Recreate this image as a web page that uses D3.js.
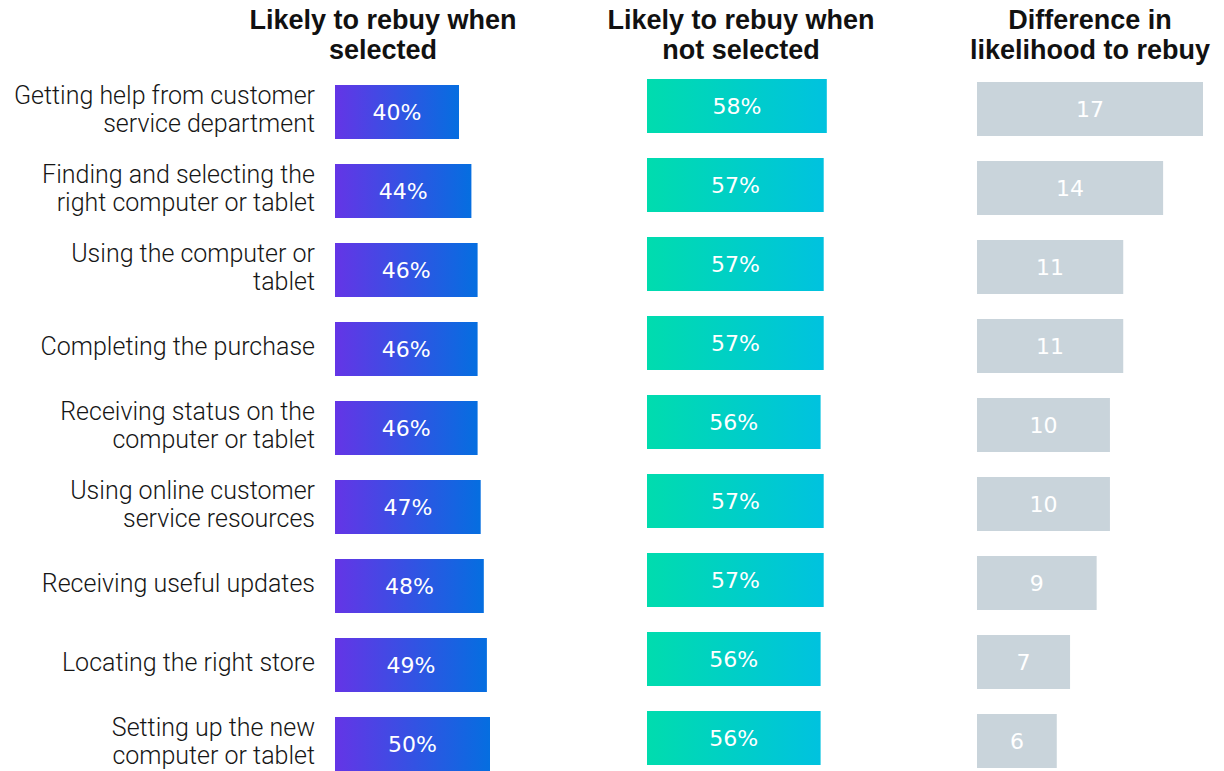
<!DOCTYPE html>
<html>
<head>
<meta charset="utf-8">
<script src="https://cdn.jsdelivr.net/npm/d3@7"></script>
<style>
  html, body { margin: 0; padding: 0; background: #fff; overflow: hidden; }
  svg { display: block; }
</style>
</head>
<body>
<svg id="chart" width="1224" height="771"></svg>
<script>
// Touchpoints, each broken into the lines shown beside its bar
const categories = [
  ["Getting help from customer", "service department"],
  ["Finding and selecting the", "right computer or tablet"],
  ["Using the computer or", "tablet"],
  ["Completing the purchase"],
  ["Receiving status on the", "computer or tablet"],
  ["Using online customer", "service resources"],
  ["Receiving useful updates"],
  ["Locating the right store"],
  ["Setting up the new", "computer or tablet"]
];
// Share likely to rebuy (%)
const selected    = [40, 44, 46, 46, 46, 47, 48, 49, 50];
const notSelected = [58, 57, 57, 57, 56, 57, 57, 56, 56];
// Gap in likelihood to rebuy (points)
const difference  = [17, 14, 11, 11, 10, 10, 9, 7, 6];

const panelTitles = [
  ["Likely to rebuy when", "selected"],
  ["Likely to rebuy when", "not selected"],
  ["Difference in", "likelihood to rebuy"]
];

const svg = d3.select("#chart");
const keys = categories.map((c, i) => i);

// Rows: 79px pitch, 54px bars
const y = d3.scaleBand()
  .domain(keys)
  .range([72.5, 72.5 + 9 * 79])
  .paddingInner(25 / 79)
  .paddingOuter(12.5 / 79);

// Horizontal scales
const xPct = d3.scaleLinear().domain([0, 100]).range([0, 310]);
const xDiff = d3.scaleLinear().domain([0, 17]).range([0, 226]);

// Gradients, one sweep per bar
const defs = svg.append("defs");
function gradient(id, from, to) {
  const g = defs.append("linearGradient").attr("id", id)
    .attr("x1", "0%").attr("x2", "100%").attr("y1", "0%").attr("y2", "0%");
  g.append("stop").attr("offset", "0%").attr("stop-color", from);
  g.append("stop").attr("offset", "100%").attr("stop-color", to);
}
gradient("gradSel", "#6435e6", "#056ee0");
gradient("gradNot", "#00dcae", "#00c2df");

const panels = [
  { values: selected,    x0: 335, dy: 0,  scale: xPct,  fill: "url(#gradSel)", fmt: v => v + "%", titleX: 383 },
  { values: notSelected, x0: 647, dy: -6, scale: xPct,  fill: "url(#gradNot)", fmt: v => v + "%", titleX: 741 },
  { values: difference,  x0: 977, dy: -3, scale: xDiff, fill: "#c9d4db",       fmt: v => String(v), titleX: 1090 }
];

panels.forEach((p, pi) => {
  const g = svg.append("g").attr("transform", `translate(${p.x0},${p.dy})`);
  const rows = g.selectAll("g.row").data(p.values).join("g").attr("class", "row");
  rows.append("rect")
    .attr("x", 0)
    .attr("y", (d, i) => y(i))
    .attr("width", d => p.scale(d))
    .attr("height", y.bandwidth())
    .attr("fill", p.fill);
  rows.append("text")
    .attr("x", d => p.scale(d) / 2)
    .attr("y", (d, i) => y(i) + y.bandwidth() / 2 + 8)
    .attr("text-anchor", "middle")
    .attr("fill", "#fff")
    .attr("font-family", "'DejaVu Sans', sans-serif")
    .attr("font-size", 22)
    .text(d => p.fmt(d));

  // Panel title
  const t = svg.append("text")
    .attr("x", p.titleX)
    .attr("text-anchor", "middle")
    .attr("font-family", "'Liberation Sans', Arial, sans-serif")
    .attr("font-size", 27)
    .attr("font-weight", 700)
    .attr("fill", "#111");
  panelTitles[pi].forEach((line, li) => {
    t.append("tspan").attr("x", p.titleX).attr("y", 29 + li * 30).text(line);
  });
});

// Category labels, right-aligned against the first panel
const labels = svg.append("g");
categories.forEach((lines, i) => {
  const cy = y(i) + y.bandwidth() / 2;
  const lh = 28;
  const first = lines.length > 1 ? cy - 8 : cy + 6;
  const t = labels.append("text")
    .attr("text-anchor", "end")
    .attr("font-family", "Roboto, sans-serif")
    .attr("font-size", 25)
    .attr("font-weight", 300)
    .attr("fill", "#161616");
  lines.forEach((line, li) => {
    t.append("tspan").attr("x", 315).attr("y", first + li * lh).text(line);
  });
});
</script>
</body>
</html>
